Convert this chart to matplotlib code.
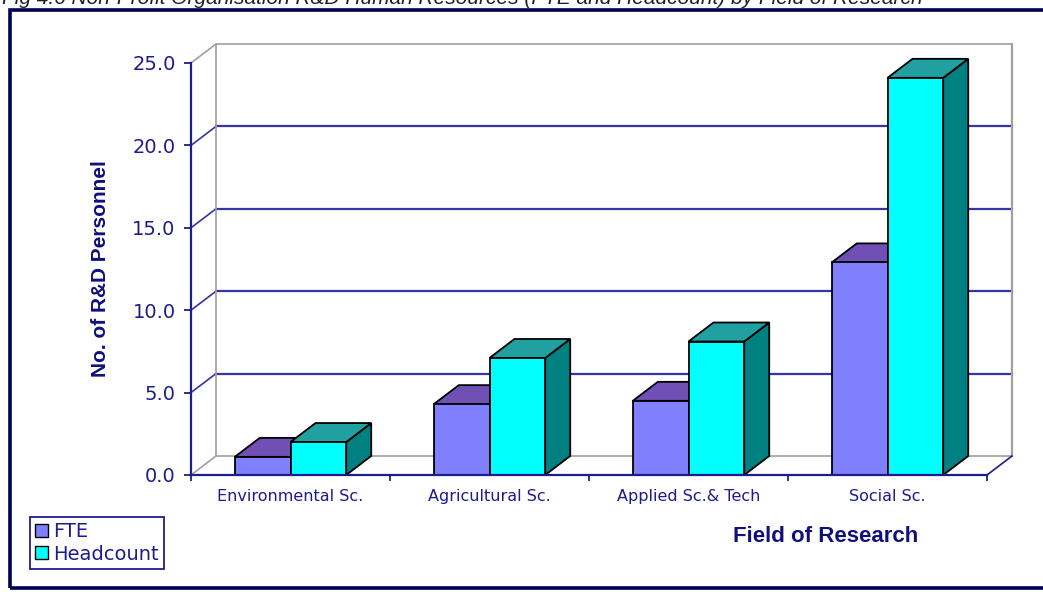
import numpy as np
import matplotlib
matplotlib.use("Agg")
import matplotlib.pyplot as plt
from matplotlib.patches import Polygon, Rectangle, Patch

# data
categories = ["Environmental Sc.", "Agricultural Sc.", "Applied Sc.& Tech", "Social Sc."]
fte = [1.1, 4.3, 4.5, 12.9]
headcount = [2.0, 7.1, 8.1, 24.1]
series_names = ["FTE", "Headcount"]
y_ticks = [0, 5, 10, 15, 20, 25]

navy = "#1c1c8c"
grid_col = "#3535a5"
wall_col = "#a0a0a0"

# face colours: front, top, side
fte_cols = ("#8080ff", "#7050b4", "#5050a8")
hc_cols = ("#00ffff", "#20a0a0", "#008080")

W, H = 1043, 592
fig = plt.figure(figsize=(W / 100, H / 100), dpi=100)
ax = fig.add_axes([191 / W, 1 - 475 / H, 796 / W, 412 / H])
ax.set_xlim(0, len(categories))
ax.set_ylim(0, 25)

# depth of the fake 3d box, in data units
dx = 25 / 199
dy = 19 / 16.48
bar_w = 0.28
n = len(categories)

# back wall
for v in y_ticks:
    c = wall_col if v in (0, 25) else grid_col
    ax.plot([dx, n + dx], [v + dy, v + dy], color=c, lw=1.6 if c == grid_col else 1.2,
            zorder=1, clip_on=False)
    ax.plot([0, dx], [v, v + dy], color=c, lw=1.2, zorder=1, clip_on=False)
ax.plot([dx, dx], [dy, 25 + dy], color=wall_col, lw=1.2, zorder=1, clip_on=False)
ax.plot([n + dx, n + dx], [dy, 25 + dy], color=wall_col, lw=1.6, zorder=1, clip_on=False)
ax.plot([n, n + dx], [0, dy], color=navy, lw=1.2, zorder=1, clip_on=False)


def draw_box(x0, x1, h, cols):
    front = [(x0, 0), (x1, 0), (x1, h), (x0, h)]
    top = [(x0, h), (x1, h), (x1 + dx, h + dy), (x0 + dx, h + dy)]
    side = [(x1, 0), (x1 + dx, dy), (x1 + dx, h + dy), (x1, h)]
    for pts, col in zip((side, top, front), (cols[2], cols[1], cols[0])):
        ax.add_patch(Polygon(pts, closed=True, facecolor=col, edgecolor="black",
                             lw=1.3, zorder=3, clip_on=False))


for i in range(n):
    c = i + 0.5
    draw_box(c - bar_w, c, fte[i], fte_cols)
    draw_box(c, c + bar_w, headcount[i], hc_cols)

# axes styling
for s in ["top", "right"]:
    ax.spines[s].set_visible(False)
for s in ["left", "bottom"]:
    ax.spines[s].set_color(navy)
    ax.spines[s].set_linewidth(1.6)
    ax.spines[s].set_zorder(4)
ax.set_facecolor("none")

ax.set_yticks(y_ticks)
ax.set_yticklabels([f"{v:.1f}" for v in y_ticks])
ax.tick_params(axis="y", colors=navy, labelsize=14, length=5, width=1.3, pad=6)

ax.set_xticks(np.arange(n + 1))
ax.set_xticklabels([])
ax.set_xticks(np.arange(n) + 0.5, minor=True)
ax.set_xticklabels(categories, minor=True)
ax.tick_params(axis="x", which="major", colors=navy, length=4, width=1.3)
ax.tick_params(axis="x", which="minor", length=0, pad=10, labelsize=11.5, labelcolor=navy)

ax.set_ylabel("No. of R&D Personnel", family="Liberation Sans", fontweight="bold",
              fontsize=15, color="#10107a", va="center")
ax.yaxis.set_label_coords((100 - 191) / 796, 0.5)
ax.set_xlabel("Field of Research", family="Liberation Sans", fontweight="bold",
              fontsize=16, color="#10107a", va="center")
ax.xaxis.set_label_coords((826 - 191) / 796, (475 - 537) / 412)

# legend
handles = [Patch(facecolor=fte_cols[0], edgecolor="black"),
           Patch(facecolor=hc_cols[0], edgecolor="black")]
leg = fig.legend(handles, series_names, loc="upper left",
                 bbox_to_anchor=(30 / W, 1 - 517 / H), fontsize=14,
                 handlelength=0.65, handleheight=0.65, handletextpad=0.3,
                 borderpad=0.25, labelspacing=0.2, borderaxespad=0,
                 fancybox=False, framealpha=1)
leg.get_frame().set_edgecolor(navy)
leg.get_frame().set_linewidth(1.3)
for t in leg.get_texts():
    t.set_color(navy)

# outer frame of the chart area
fig.patches.append(Rectangle((10 / W, 4 / H), 1.05, 1 - 14 / H, transform=fig.transFigure,
                             fill=False, edgecolor="#000050", lw=2.6))

# title, cut off at the top edge as in the source picture
fig.text(2 / W, 1 - 4 / H,
         "Fig 4.6 Non-Profit Organisation R&D Human Resources (FTE and Headcount) by Field of Research",
         family="Liberation Sans", style="italic", fontsize=15, color="#202020",
         va="baseline", ha="left")

fig.savefig("out.png", dpi=100)
